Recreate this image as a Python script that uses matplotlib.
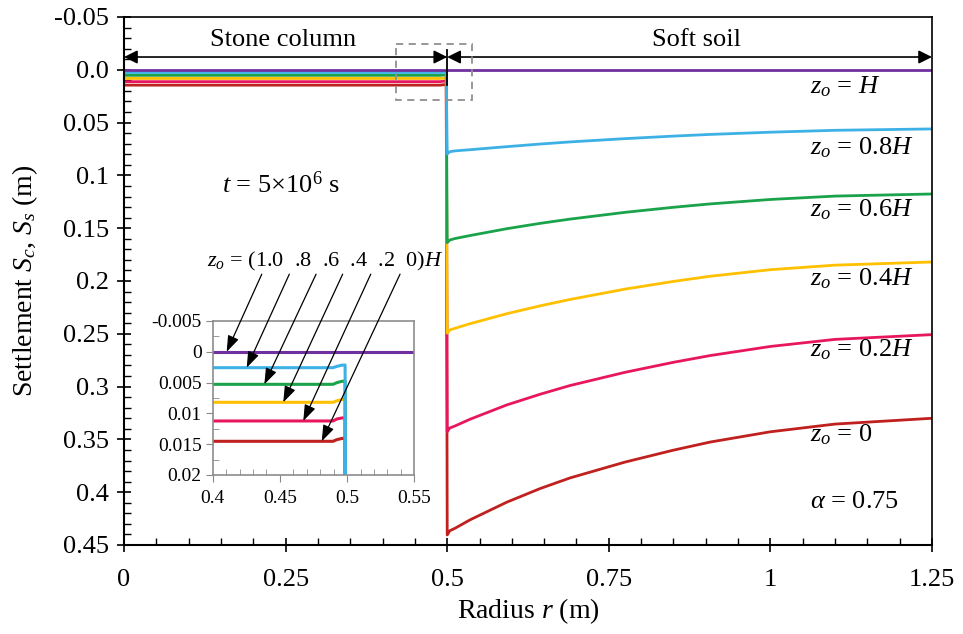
import numpy as np
import matplotlib
matplotlib.use('Agg')
import matplotlib.pyplot as plt

plt.rcParams['font.family'] = 'Liberation Serif'
plt.rcParams['mathtext.fontset'] = 'custom'
plt.rcParams['mathtext.rm'] = 'Liberation Serif'
plt.rcParams['mathtext.it'] = 'Liberation Serif:italic'
plt.rcParams['mathtext.bf'] = 'Liberation Serif:bold'
plt.rcParams['axes.unicode_minus'] = False

# stone column part (r < 0.5) and soft soil part (r >= 0.5)
r_col = [0.0, 0.4895, 0.4925, 0.496, 0.4985]
r_soil = [0.5, 0.504, 0.512, 0.535, 0.592, 0.644, 0.69, 0.775, 0.85, 0.907, 1.0, 1.1, 1.25]

col_08 = [0.00258, 0.00258, 0.00236, 0.00218, 0.00214]
col_06 = [0.00528, 0.00528, 0.00500, 0.00480, 0.00474]
col_04 = [0.0082, 0.0082, 0.00795, 0.00776, 0.00771]
col_02 = [0.01123, 0.01123, 0.0109, 0.01075, 0.0107]
col_00 = [0.01453, 0.01453, 0.01425, 0.01408, 0.01404]

soil_08 = [0.0797, 0.0776, 0.0768, 0.0757, 0.0728, 0.0703, 0.0683, 0.0652, 0.0628, 0.0612, 0.0591, 0.0573, 0.0560]
soil_06 = [0.1637, 0.1612, 0.1598, 0.1570, 0.1505, 0.1454, 0.1414, 0.1350, 0.1302, 0.1270, 0.1228, 0.1196, 0.1176]
soil_04 = [0.2494, 0.2464, 0.2448, 0.2405, 0.2310, 0.2235, 0.2175, 0.2077, 0.2004, 0.1955, 0.1893, 0.1850, 0.1820]
soil_02 = [0.3427, 0.3392, 0.3373, 0.3310, 0.3174, 0.3072, 0.2990, 0.2865, 0.2770, 0.2706, 0.2620, 0.2553, 0.2508]
soil_00 = [0.4405, 0.4365, 0.4342, 0.4263, 0.4095, 0.3965, 0.3865, 0.3715, 0.3602, 0.3525, 0.3428, 0.3355, 0.3300]

r_top = [0.0, 1.25]
s_top = [0.0, 0.0]

labels = ['$z_o$ = $H$', '$z_o$ = 0.8$H$', '$z_o$ = 0.6$H$', '$z_o$ = 0.4$H$', '$z_o$ = 0.2$H$', '$z_o$ = 0']
label_y = [0.016, 0.0734, 0.1328, 0.1975, 0.2653, 0.3458]
colors = ['#7030A0', '#3DB1E6', '#1AA34A', '#FFC000', '#E8175D', '#C0201E']

yticks = [-0.05, 0.0, 0.05, 0.1, 0.15, 0.2, 0.25, 0.3, 0.35, 0.4, 0.45]
yticklabels = ['-0.05', '0.0', '0.05', '0.1', '0.15', '0.2', '0.25', '0.3', '0.35', '0.4', '0.45']
xticks = [0, 0.25, 0.5, 0.75, 1.0, 1.25]
xticklabels = ['0', '0.25', '0.5', '0.75', '1', '1.25']

in_yticks = [-0.005, 0, 0.005, 0.01, 0.015, 0.02]
in_yticklabels = ['-0.005', '0', '0.005', '0.01', '0.015', '0.02']
in_xticks = [0.4, 0.45, 0.5, 0.55]
in_xticklabels = ['0.4', '0.45', '0.5', '0.55']

series = [(col_00, soil_00), (col_02, soil_02), (col_04, soil_04), (col_06, soil_06), (col_08, soil_08)]
ser_colors = colors[5:0:-1]

fig = plt.figure(figsize=(9.63, 6.34), dpi=100)
ax = fig.add_axes([0.1288, 0.1404, 0.8390, 0.8328])


def draw(a, lw):
    for (c, s), col in zip(series, ser_colors):
        a.plot(r_col + r_soil, c + s, color=col, lw=lw, solid_joinstyle='round')
    a.plot(r_top, s_top, color=colors[0], lw=lw)


draw(ax, 2.0)
ax.set_xlim(0, 1.25)
ax.set_ylim(0.45, -0.05)
ax.set_xticks(xticks, xticklabels)
ax.set_yticks(yticks, yticklabels)
ax.set_xticks(np.arange(0, 1.2501, 0.05), minor=True)
ax.set_yticks(np.arange(-0.05, 0.4501, 0.01), minor=True)
ax.tick_params(which='major', direction='inout', length=10, width=1.2, labelsize=19, pad=6)
ax.tick_params(which='minor', direction='in', length=5, width=1.0)
ax.tick_params(axis='x', pad=12)
for sp in ['left', 'bottom']:
    ax.spines[sp].set_linewidth(1.5)
for sp in ['top', 'right']:
    ax.spines[sp].set_linewidth(1.2)
ax.set_xlabel('Radius $r$ (m)', fontsize=20, labelpad=4)
ax.set_ylabel('Settlement $S_c$, $S_s$ (m)', fontsize=20, labelpad=10)

# region arrows
ax.annotate('', xy=(0.0, -0.0121), xytext=(0.5, -0.0121),
            arrowprops=dict(arrowstyle='<|-|>', color='k', lw=1.2, mutation_scale=20, shrinkA=0, shrinkB=0))
ax.annotate('', xy=(0.5, -0.0121), xytext=(1.25, -0.0121),
            arrowprops=dict(arrowstyle='<|-|>', color='k', lw=1.2, mutation_scale=20, shrinkA=0, shrinkB=0))
ax.plot([0.5, 0.5], [-0.0188, 0.0143], color='k', lw=1.3, zorder=5)
ax.text(0.246, -0.0282, 'Stone column', fontsize=19, ha='center', va='center')
ax.text(0.886, -0.0282, 'Soft soil', fontsize=19, ha='center', va='center')

# dashed zoom box
ax.add_patch(plt.Rectangle((0.42, -0.0241), 0.119, 0.0527, fill=False, ls=(0, (4, 3)),
                           ec='#909090', lw=1.3, zorder=6))

for lab, yv in zip(labels, label_y):
    ax.text(1.0613, yv, lab, fontsize=19, ha='left', va='center')
ax.text(1.0613, 0.409, r'$\alpha$ = 0.75', fontsize=19, ha='left', va='center')
ax.text(0.1516, 0.109, r'$t$ = 5×10$^6$ s', fontsize=19, ha='left', va='center')

# inset
ins = fig.add_axes([0.2209, 0.2508, 0.2093, 0.2429])
draw(ins, 2.2)
ins.set_xlim(0.4, 0.55)
ins.set_ylim(0.02, -0.005)
ins.set_xticks(in_xticks, in_xticklabels)
ins.set_yticks(in_yticks, in_yticklabels)
ins.set_xticks(np.arange(0.4, 0.5501, 0.01), minor=True)
ins.set_yticks(np.arange(-0.005, 0.02001, 0.0025), minor=True)
ins.tick_params(which='major', direction='out', length=5, color='#888888', labelsize=14, pad=3)
ins.tick_params(which='minor', direction='in', length=4, color='#888888')
ins.tick_params(axis='x', pad=6)
for sp in ins.spines.values():
    sp.set_color('#8c8c8c')
    sp.set_linewidth(1.2)

ins.text(0.3955, -0.0138, '$z_o$ = (1.0  .8  .6  .4  .2  0)$H$', fontsize=16,
         ha='left', va='baseline', clip_on=False)
tails_x = [0.4365, 0.4570, 0.4769, 0.4967, 0.5176, 0.5394]
tips_x = [0.4104, 0.4253, 0.4384, 0.4525, 0.4674, 0.4811]
tips_y = [0.0, 0.00258, 0.00528, 0.0082, 0.01123, 0.01453]
for tx, px, py in zip(tails_x, tips_x, tips_y):
    ins.annotate('', xy=(px, py), xytext=(tx, -0.0126), annotation_clip=False,
                 arrowprops=dict(arrowstyle='-|>,head_length=0.7,head_width=0.25', color='k',
                                 lw=0.9, shrinkA=0, shrinkB=0, mutation_scale=14))

fig.savefig('out.png', dpi=100)
